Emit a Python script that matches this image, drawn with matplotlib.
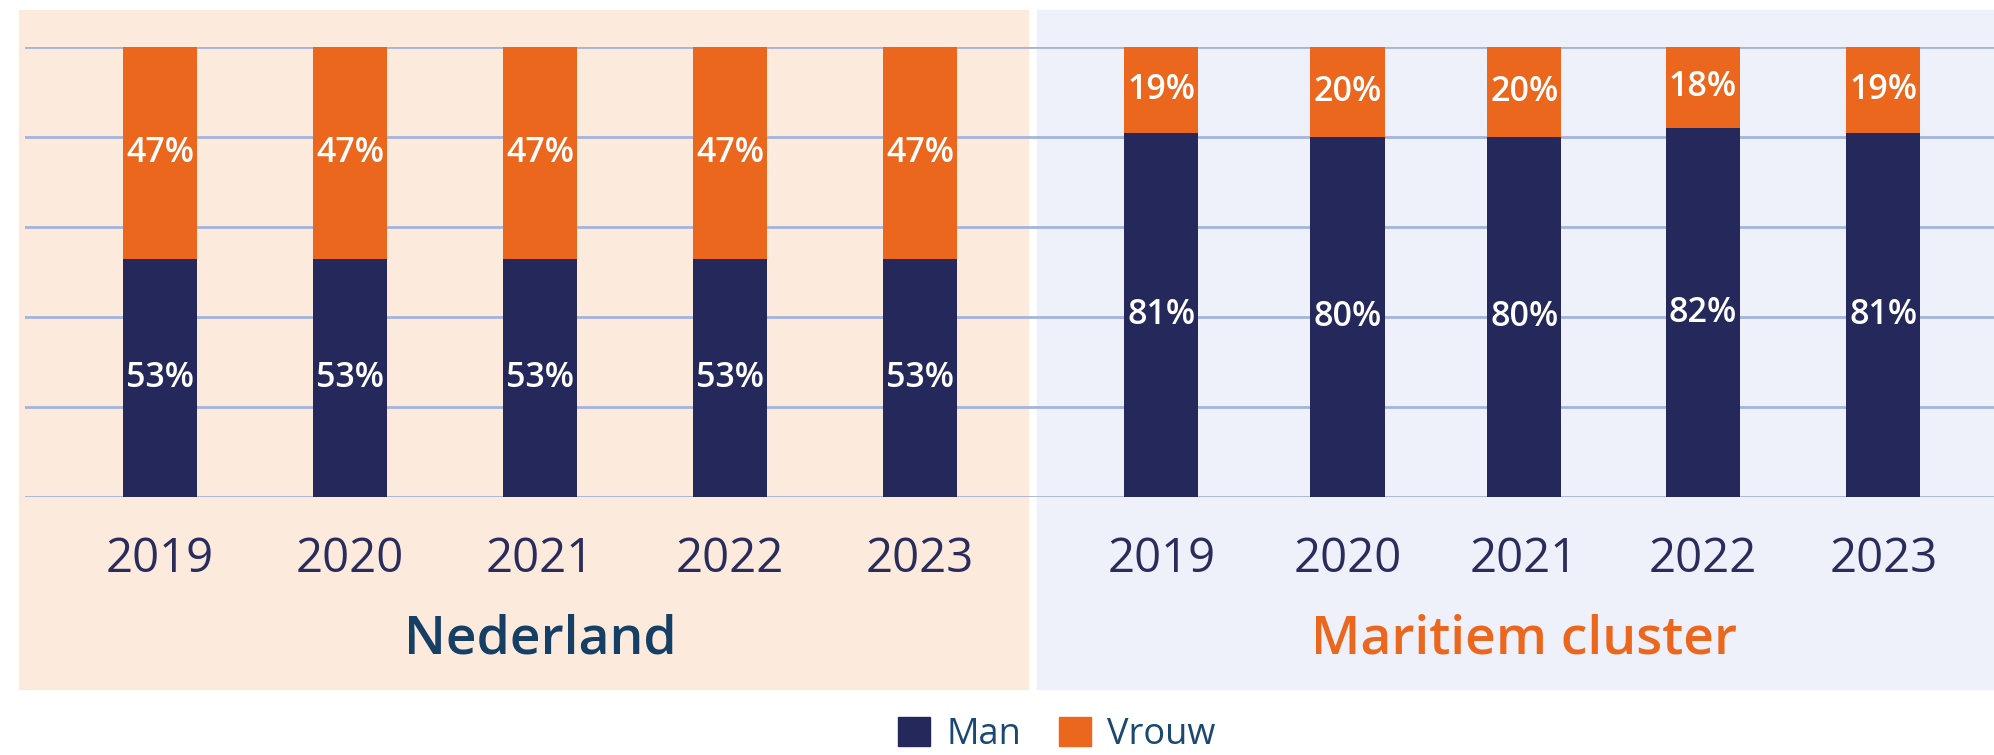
import matplotlib.pyplot as plt
from matplotlib.patches import Rectangle, Patch

plt.rcParams['font.family'] = ['Open Sans', 'DejaVu Sans']

years = ['2019', '2020', '2021', '2022', '2023']
nl_man = [53, 53, 53, 53, 53]
nl_vrouw = [47, 47, 47, 47, 47]
mar_man = [81, 80, 80, 82, 81]
mar_vrouw = [19, 20, 20, 18, 19]
groups = ['Nederland', 'Maritiem cluster']

navy = '#24285a'
orange = '#eb671e'
grid_col = '#a3b4de'

W, H = 1994, 755
fig = plt.figure(figsize=(W / 100, H / 100), dpi=100)

# panel backgrounds (figure pixels -> fraction)
def fig_rect(x0, y0, x1, y1, color):
    fig.patches.append(Rectangle((x0 / W, 1 - y1 / H), (x1 - x0) / W, (y1 - y0) / H,
                                 transform=fig.transFigure, color=color, zorder=-10))

fig_rect(19, 10, 1028, 689, '#fcebdd')
fig_rect(1037, 10, 1994, 689, '#eef1fa')

ax = fig.add_axes([25 / W, (H - 497) / H, 1969 / W, 450 / H])
ax.set_zorder(5)
ax.patch.set_alpha(0)
ax.set_xlim(-0.7105, 9.6526)
ax.set_ylim(0, 100)
for s in ax.spines.values():
    s.set_visible(False)
ax.set_xticks([])
ax.set_yticks([])
for g in range(0, 101, 20):
    ax.axhline(g, color=grid_col, lw=2, zorder=1)

xl = [0, 1, 2, 3, 4]
xr = [5.27, 6.25, 7.18, 8.12, 9.07]
w = 0.39

def stack(xs, man, vrouw):
    ax.bar(xs, man, width=w, color=navy, zorder=2)
    ax.bar(xs, vrouw, bottom=man, width=w, color=orange, zorder=2)
    for x, m, v in zip(xs, man, vrouw):
        ax.text(x, m / 2, f'{m}%', ha='center', va='center', color='white',
                fontsize=24.5, fontweight='semibold', zorder=3)
        ax.text(x, m + v / 2, f'{v}%', ha='center', va='center', color='white',
                fontsize=24.5, fontweight='semibold', zorder=3)
    for x, yr in zip(xs, years):
        ax.text(x, -0.1656, yr, transform=ax.get_xaxis_transform(), ha='center',
                va='baseline', fontsize=34, color='#2a2d5b')

stack(xl, nl_man, nl_vrouw)
stack(xr, mar_man, mar_vrouw)

ax.text(xl[2], -0.3467, groups[0], transform=ax.get_xaxis_transform(), ha='center',
        va='baseline', fontsize=38.5, fontweight='semibold', color='#153f64')
ax.text(xr[2], -0.3467, groups[1], transform=ax.get_xaxis_transform(), ha='center',
        va='baseline', fontsize=38.5, fontweight='semibold', color=orange)

handles = [Patch(color=navy, label='Man'), Patch(color=orange, label='Vrouw')]
leg = fig.legend(handles=handles, loc='center', bbox_to_anchor=(0.530, 0.027), ncol=2,
                 frameon=False, fontsize=26, handlelength=0.88, handleheight=0.88,
                 handletextpad=0.45, columnspacing=1.05, borderpad=0)
for t in leg.get_texts():
    t.set_color('#1b4871')

fig.savefig('out.png', dpi=100)
